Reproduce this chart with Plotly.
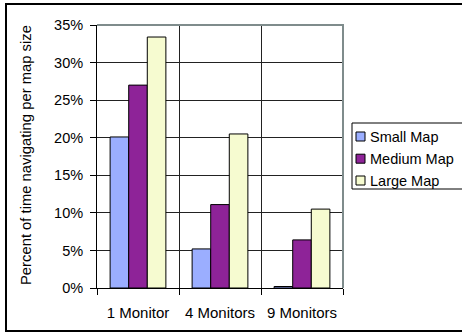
import plotly.graph_objects as go

categories = ["1 Monitor", "4 Monitors", "9 Monitors"]
small_map = [0.201, 0.052, 0.002]
medium_map = [0.270, 0.111, 0.064]
large_map = [0.334, 0.205, 0.105]
series_names = ["Small Map", "Medium Map", "Large Map"]
colors = ["#9BAEFF", "#8E2398", "#F6FBD0"]
y_ticks = [0, 0.05, 0.10, 0.15, 0.20, 0.25, 0.30, 0.35]
y_title = "Percent of time navigating per map size"

W, H = 462, 334
L, R, T, B = 97, 343, 25, 288

fig = go.Figure()
for name, vals, c in zip(series_names, [small_map, medium_map, large_map], colors):
    fig.add_trace(go.Bar(x=categories, y=vals, name=name, marker_color=c,
                         marker_line_color="black", marker_line_width=1))

def px_x(px):
    return (px - L) / (R - L)

def px_y(py):
    return (B - py) / (B - T)

font = "Liberation Sans, Arial, sans-serif"

shapes = [
    dict(type="path", xref="paper", yref="paper",
         path="M 0,1 L 1,1 L 1,0", line=dict(color="#7F8C8C", width=2), layer="above"),
    dict(type="rect", xref="paper", yref="paper",
         x0=px_x(6), x1=px_x(470), y0=px_y(331), y1=px_y(4),
         line=dict(color="black", width=2), layer="above"),
    # legend box
    dict(type="rect", xref="paper", yref="paper",
         x0=px_x(352), x1=px_x(470), y0=px_y(189), y1=px_y(123),
         line=dict(color="black", width=1), fillcolor="white", layer="above"),
]
annotations = [
    dict(text=y_title, xref="paper", yref="paper", x=px_x(26), y=px_y(155),
         textangle=-90, showarrow=False, xanchor="center", yanchor="middle",
         font=dict(size=14.8, family=font, color="black")),
]
row_y = [136.5, 158.7, 180.5]
for name, c, ry in zip(series_names, colors, row_y):
    shapes.append(dict(type="rect", xref="paper", yref="paper",
                       x0=px_x(356), x1=px_x(365), y0=px_y(ry + 4.5), y1=px_y(ry - 4.5),
                       line=dict(color="black", width=1), fillcolor=c, layer="above"))
    annotations.append(dict(text=name, xref="paper", yref="paper", x=px_x(368), y=px_y(ry),
                            showarrow=False, xanchor="left", yanchor="middle",
                            font=dict(size=14.5, family=font, color="black")))

fig.update_layout(
    width=W, height=H,
    margin=dict(l=L, r=W - R, t=T, b=H - B),
    paper_bgcolor="white", plot_bgcolor="white",
    barmode="group", bargap=0.32, bargroupgap=0,
    font=dict(family=font, size=14, color="black"),
    showlegend=False,
    xaxis=dict(type="category", tickson="boundaries", showgrid=True, gridcolor="#222222",
               gridwidth=1, ticks="outside", ticklen=6, tickcolor="black",
               showline=True, linecolor="black", linewidth=1, tickangle=0,
               tickfont=dict(size=15), ticklabelstandoff=11),
    yaxis=dict(range=[0, 0.35], tickvals=y_ticks, tickformat=".0%", showgrid=True,
               gridcolor="#222222", gridwidth=1, ticks="outside", ticklen=6,
               tickcolor="black", showline=True, linecolor="black", linewidth=1,
               tickfont=dict(size=14.5), zeroline=False, ticklabelstandoff=4),
    shapes=shapes,
    annotations=annotations,
)

fig.write_html("out.html")
